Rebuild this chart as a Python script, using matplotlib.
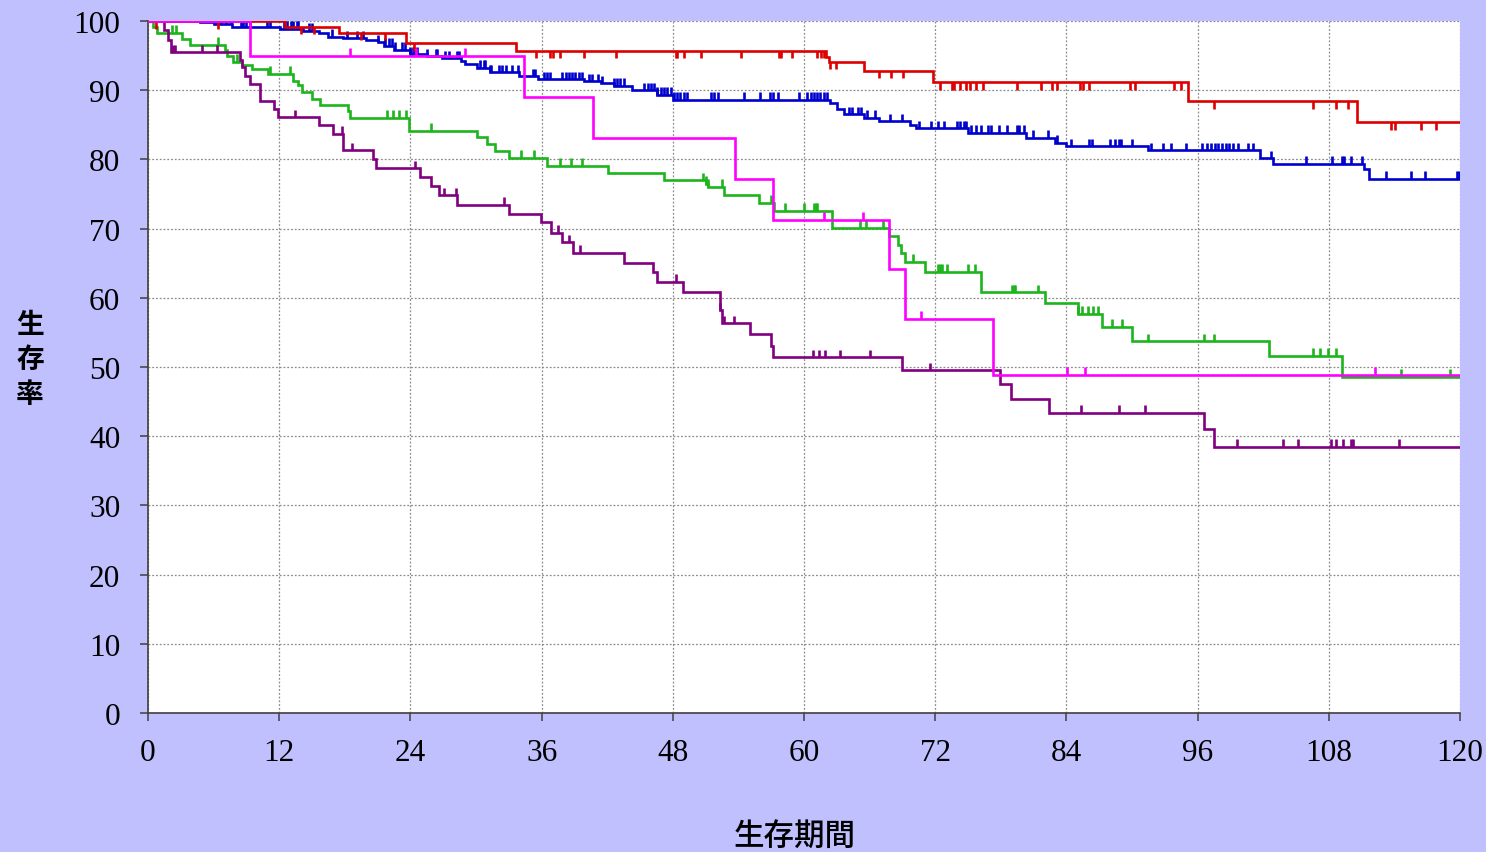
#!/usr/bin/env python3
"""Kaplan-Meier style survival curves (生存率 vs 生存期間) with censor ticks."""

import numpy as np
import matplotlib

matplotlib.use("Agg")
import matplotlib.pyplot as plt  # noqa: E402

# --- data (months, survival %) --------------------------------------------
red_t = [0, 12.5, 17.5, 23.6, 33.7, 62.0, 62.3, 65.5, 71.8, 95.1, 110.6]
red_s = [100, 99.2, 98.3, 96.8, 95.7, 94.8, 94.1, 92.8, 91.2, 88.4, 85.4]
red_cens = [0.7, 6.4, 14.0, 15.2, 19.5, 21.7, 24.3, 35.5, 36.8, 37.0, 37.7,
            39.9, 42.8, 48.3, 48.4, 49.0, 50.6, 54.2, 57.7, 57.9, 58.9, 61.2,
            61.6, 61.8, 62.4, 62.9, 66.9, 68.0, 69.1, 72.4, 73.5, 73.7, 74.3,
            74.8, 75.2, 75.7, 76.4, 79.5, 81.7, 82.7, 83.1, 85.2, 85.5, 86.1,
            89.8, 90.3, 93.8, 94.5, 97.5, 106.6, 108.7, 109.8, 113.7, 114.1,
            116.4, 117.8]

blue_t = [0, 4.8, 6.0, 7.7, 12.1, 14.2, 15.6, 16.5, 17.8, 19.9, 21.0, 21.6,
          22.5, 24.0, 25.5, 26.9, 28.6, 29.0, 30.1, 31.3, 33.9, 35.7, 39.9,
          41.4, 42.6, 44.3, 46.6, 48.0, 62.4, 63.0, 63.7, 65.5, 66.9, 69.7,
          70.2, 75.0, 80.3, 83.0, 84.0, 91.5, 101.7, 102.9, 111.2, 111.7]
blue_s = [100, 99.8, 99.5, 99.2, 98.9, 98.6, 98.2, 97.7, 97.5, 97.2, 96.9,
          96.4, 95.8, 95.2, 94.9, 94.6, 94.2, 93.8, 93.2, 92.6, 92.0, 91.6,
          91.3, 91.0, 90.6, 90.0, 89.3, 88.6, 88.1, 87.3, 86.5, 86.0, 85.5,
          85.0, 84.5, 83.8, 83.1, 82.4, 81.9, 81.3, 80.15, 79.4, 78.6, 77.2]
blue_cens = [6.1, 6.4, 6.7, 7.1, 7.6, 8.5, 8.7, 9.0, 9.3, 10.9, 11.2, 12.4,
             12.7, 13.1, 13.3, 13.6, 13.75, 14.7, 15.0, 16.8, 18.2, 19.1,
             19.7, 21.0, 21.7, 22.0, 22.3, 22.6, 23.2, 23.5, 24.0, 24.2, 24.3,
             24.6, 25.5, 26.3, 26.4, 27.2, 27.5, 28.3, 28.4, 30.4, 30.7, 30.8,
             31.3, 31.4, 32.1, 32.4, 32.7, 33.3, 33.8, 35.2, 35.4, 36.2, 36.5,
             36.8, 37.9, 38.2, 38.5, 38.8, 39.1, 39.4, 39.7, 40.3, 40.6, 41.2,
             41.5, 42.6, 42.9, 43.2, 43.5, 45.4, 45.7, 46.0, 46.3, 46.6, 46.9,
             47.2, 47.5, 47.8, 48.1, 48.4, 48.7, 49.0, 49.3, 51.5, 51.8, 52.1,
             54.5, 56.0, 56.9, 57.2, 57.6, 59.5, 60.3, 60.6, 60.9, 61.2, 61.5,
             61.8, 62.1, 64.1, 64.4, 64.9, 65.2, 65.8, 66.5, 67.9, 69.0, 70.5,
             71.6, 72.3, 72.8, 74.0, 74.3, 74.6, 74.8, 75.3, 75.7, 76.2, 76.8,
             77.1, 77.8, 78.6, 79.5, 79.7, 80.1, 80.9, 82.3, 83.1, 84.4, 86.1,
             86.3, 88.0, 88.4, 88.8, 89.0, 90.0, 91.7, 92.8, 93.6, 94.9, 96.4,
             96.9, 97.2, 97.6, 97.9, 98.2, 98.6, 98.9, 99.2, 99.7, 100.6,
             101.1, 102.7, 105.9, 108.3, 109.2, 109.4, 110.0, 111.0, 113.2,
             115.5, 116.8, 119.7, 119.9]

magenta_t = [0, 9.3, 34.4, 40.7, 53.7, 57.2, 67.8, 69.2, 77.3]
magenta_s = [100, 95.0, 89.0, 83.1, 77.2, 71.3, 64.1, 57.0, 48.9]
magenta_cens = [18.5, 24.5, 29.0, 61.8, 65.4, 70.7, 84.1, 85.7, 112.2]

green_t = [0, 0.5, 0.8, 3.1, 3.8, 7.0, 7.2, 7.8, 8.6, 9.5, 11.0, 13.3, 13.75,
           14.05, 14.97, 15.7, 18.3, 18.5, 23.9, 30.1, 31.0, 31.7, 33.0, 36.5,
           42.1, 47.2, 51.0, 51.2, 52.7, 55.9, 57.25, 62.6, 67.8, 68.6, 68.9,
           69.2, 71.1, 76.2, 82.0, 85.1, 87.3, 90.0, 102.5, 109.2]
green_s = [100, 99.1, 98.3, 97.4, 96.6, 95.8, 95.0, 94.1, 93.6, 93.1, 92.4,
           91.4, 90.7, 89.7, 88.8, 87.8, 87.0, 86.0, 84.1, 83.2, 82.2, 81.2,
           80.2, 79.1, 78.1, 77.0, 76.5, 76.0, 74.9, 73.75, 72.6, 70.1, 69.0,
           67.7, 66.5, 65.2, 63.8, 60.8, 59.2, 57.7, 55.8, 53.7, 51.6, 48.6]
green_cens = [2.2, 2.6, 6.4, 8.1, 11.2, 13.0, 21.9, 22.4, 23.0, 23.6, 25.9,
              34.1, 35.3, 37.7, 38.7, 39.7, 50.8, 51.0, 51.2, 52.5, 57.0, 58.3,
              60.0, 60.9, 61.1, 61.2, 65.1, 65.7, 67.25, 70.0, 72.3, 72.4, 72.6,
              73.1, 75.0, 75.6, 79.05, 79.2, 79.3, 81.4, 85.1, 85.4, 86.0, 86.4,
              86.9, 88.2, 89.1, 91.5, 96.6, 97.5, 106.6, 107.2, 107.9, 108.7,
              114.6, 119.1]

purple_t = [0, 1.5, 1.8, 2.1, 8.4, 8.6, 8.9, 9.3, 10.2, 11.5, 11.9, 15.6,
            16.95, 17.8, 20.6, 20.85, 24.9, 25.9, 26.6, 28.3, 33.0, 35.9, 36.9,
            37.9, 38.9, 43.5, 46.2, 46.6, 48.9, 52.3, 52.5, 55.1, 57.0, 57.2,
            69.0, 77.9, 78.9, 82.4, 96.6, 97.5]
purple_s = [100, 98.7, 97.3, 95.5, 94.3, 93.3, 92.1, 90.9, 88.5, 87.3, 86.1,
            85.0, 83.7, 81.3, 80.0, 78.7, 77.4, 76.1, 74.8, 73.45, 72.1, 70.9,
            69.4, 68.0, 66.5, 65.1, 63.75, 62.3, 60.9, 58.2, 56.3, 54.8, 53.1,
            51.4, 49.5, 47.5, 45.35, 43.4, 41.0, 38.5]
purple_cens = [2.3, 2.5, 4.9, 6.3, 13.4, 17.7, 18.7, 24.4, 27.1, 28.2, 32.6,
               37.5, 38.5, 39.5, 48.3, 52.3, 52.7, 53.6, 60.8, 61.4, 61.9,
               63.3, 66.0, 71.5, 85.3, 88.8, 91.2, 99.6, 103.8, 105.2, 108.2,
               108.7, 109.3, 110.0, 110.2, 114.4]

x_ticks = list(range(0, 121, 12))
y_ticks = list(range(0, 101, 10))

T_END = 120
TICK_LEN = 1.1


def draw_curve(ax, times, surv, cens, color, down=False, z=2):
    times = np.asarray(times, dtype=float)
    surv = np.asarray(surv, dtype=float)
    xs = np.append(times, T_END)
    ys = np.append(surv, surv[-1])
    ax.step(xs, ys, where="post", color=color, linewidth=1.9, zorder=z,
            solid_joinstyle="miter")
    cens = np.asarray(cens, dtype=float)
    idx = np.searchsorted(times, cens, side="right") - 1
    level = surv[idx]
    top = level - TICK_LEN if down else level + TICK_LEN
    ax.vlines(cens, level, top, color=color, linewidth=1.9, zorder=z)


def main() -> int:
    fig = plt.figure(figsize=(14.86, 8.53), dpi=100, facecolor="#C0C0FF")
    ax = fig.add_axes([148 / 1486, 1 - 714 / 853, (1460 - 148) / 1486,
                       (714 - 22) / 853])
    ax.set_facecolor("white")

    draw_curve(ax, green_t, green_s, green_cens, "#1DB51D", z=2)
    draw_curve(ax, purple_t, purple_s, purple_cens, "#800080", z=3)
    draw_curve(ax, blue_t, blue_s, blue_cens, "#0000CC", z=4)
    draw_curve(ax, red_t, red_s, red_cens, "#DD0000", down=True, z=5)
    draw_curve(ax, magenta_t, magenta_s, magenta_cens, "#FF00FF", z=6)

    ax.set_xlim(0, 120)
    ax.set_ylim(0, 100)
    ax.set_xticks(x_ticks)
    ax.set_yticks(y_ticks)
    ax.grid(True, color="#8c8c8c", linestyle=(0, (1.5, 1.5)), linewidth=0.9,
            zorder=0)
    ax.set_axisbelow(True)
    for side in ("top", "right"):
        ax.spines[side].set_visible(False)
    for side in ("left", "bottom"):
        ax.spines[side].set_color("#404040")
        ax.spines[side].set_linewidth(1.2)
    ax.tick_params(axis="both", direction="out", length=6, width=1.1,
                   color="#404040", labelsize=22.5)
    ax.tick_params(axis="x", pad=12)
    ax.tick_params(axis="y", pad=14)
    for lab in ax.get_xticklabels() + ax.get_yticklabels():
        lab.set_fontfamily("Liberation Serif")

    cjk = ["Noto Sans CJK JP", "DejaVu Sans"]
    fig.text(30 / 1486, 1 - 360 / 853, "生\n存\n率", family=cjk,
             fontsize=20, fontweight="bold", ha="center", va="center",
             linespacing=1.3)
    fig.text(795 / 1486, 1 - 837 / 853, "生存期間", family=cjk,
             fontsize=22, fontweight="medium", ha="center", va="center")

    fig.savefig("out.png", dpi=100, facecolor=fig.get_facecolor())
    plt.close(fig)
    return 0


if __name__ == "__main__":
    raise SystemExit(main())
